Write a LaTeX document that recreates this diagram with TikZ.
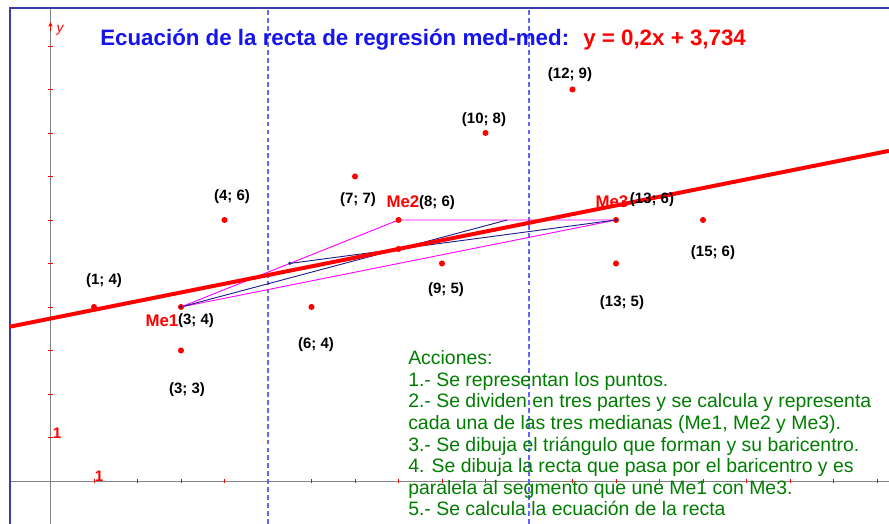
\documentclass[tikz,border=0pt]{standalone}
\usepackage{fontspec}
\setmainfont{Liberation Sans}
\usepackage{tikz}
\usetikzlibrary{arrows.meta}

\definecolor{marco}{RGB}{60,60,170}
\definecolor{guia}{RGB}{100,100,255}
\definecolor{verde}{RGB}{0,125,0}
\definecolor{titulo}{RGB}{20,20,235}
\definecolor{rosa}{RGB}{255,0,255}
\definecolor{azul}{RGB}{30,30,140}
\definecolor{eje}{RGB}{130,130,130}

\begin{document}
\begin{tikzpicture}[
    punto/.style={fill=red},
    etiq/.style={inner sep=0pt, text=black, font=\fontsize{9.8}{11}\selectfont\bfseries},
    nombre/.style={inner sep=0pt, text=red, font=\fontsize{11}{13}\selectfont\bfseries},
    marca/.style={red, line width=0.6pt},
    guiadash/.style={guia, line width=0.7pt, dash pattern=on 3.2pt off 2pt},
    accion/.style={inner sep=0pt, text=verde, align=left, font=\fontsize{12.7}{14.1}\selectfont}
    ]
    \useasboundingbox (-1.161,-0.989) rectangle (19.276,11.057);

    \draw[eje, line width=0.6pt] (-0.931,0) -- (19.276,0);
    \draw[eje, line width=0.6pt] (0,-0.989) -- (0,10.874);
    \draw[red, line width=0.5pt, -{Stealth[length=3pt,width=3pt]}] (0,10.35) -- (0,10.55);
    \node[inner sep=0pt, text=red, font=\fontsize{9}{10}\selectfont\itshape] (ejey) at (0.22,10.35) {y};

    \foreach \i in {1,...,19}
        \draw[marca] (\i,-0.05) -- (\i,0.05);
    \foreach \j in {1,...,10}
        \draw[marca] (-0.05,\j) -- (0.05,\j);
    \node[inner sep=0pt, text=red, font=\fontsize{10}{12}\selectfont\bfseries] (unox) at (1.12,0.1) {1};
    \node[inner sep=0pt, text=red, font=\fontsize{10}{12}\selectfont\bfseries] (unoy) at (0.15,1.1) {1};

    \draw[guiadash] (5,-0.989) -- (5,10.874);
    \draw[guiadash] (11,-0.989) -- (11,10.874);

    \draw[marco, line width=1.4pt] (-0.931,-0.989) -- (-0.931,10.874) -- (19.276,10.874);

    \coordinate (Me1) at (3,4);
    \coordinate (Me2) at (8,6);
    \coordinate (Me3) at (13,6);
    \coordinate (M12) at (5.5,5);
    \coordinate (M23) at (10.5,6);
    \coordinate (G) at (8,5.333);
    \coordinate (izq) at (-0.931,3.548);
    \coordinate (der) at (19.276,7.589);

    \draw[rosa, line width=0.6pt] (Me1) -- (Me2) -- (Me3) -- cycle;
    \draw[azul, line width=0.6pt] (Me1) -- (M23);
    \draw[azul, line width=0.6pt] (Me3) -- (M12);
    \draw[red, line width=2.6pt] (izq) -- (der);

    \foreach \x/\y in {1/4, 3/4, 3/3, 4/6, 6/4, 7/7, 8/6, 9/5, 10/8, 12/9, 13/6, 13/5, 15/6}
        \fill[punto] (\x,\y) circle (0.07);
    \fill[punto] (G) circle (0.07);
    \fill[azul] (M12) circle (0.04);
    \fill[azul] (Me1) circle (0.035);
    \fill[azul] (Me3) circle (0.035);

    \node[etiq] (l14) at (1.23,4.598) {(1; 4)};
    \node[etiq] (l34) at (3.345,3.678) {(3; 4)};
    \node[etiq] (l33) at (3.138,2.092) {(3; 3)};
    \node[etiq] (l46) at (4.172,6.529) {(4; 6)};
    \node[etiq] (l64) at (6.103,3.126) {(6; 4)};
    \node[etiq] (l77) at (7.069,6.46) {(7; 7)};
    \node[etiq] (l86) at (8.885,6.391) {(8; 6)};
    \node[etiq] (l95) at (9.092,4.391) {(9; 5)};
    \node[etiq] (l108) at (9.966,8.299) {(10; 8)};
    \node[etiq] (l129) at (11.943,9.333) {(12; 9)};
    \node[etiq] (l136) at (13.828,6.46) {(13; 6)};
    \node[etiq] (l135) at (13.138,4.092) {(13; 5)};
    \node[etiq] (l156) at (15.23,5.241) {(15; 6)};

    \node[nombre] (n1) at (2.563,3.678) {Me1};
    \node[nombre] (n2) at (8.103,6.414) {Me2};
    \node[nombre] (n3) at (12.908,6.414) {Me3};

    \node[anchor=base west, inner sep=0pt, text=titulo, font=\fontsize{14.6}{17}\selectfont\bfseries] (titulo) at (1.138,10.01) {Ecuación de la recta de regresión med-med:};
    \node[anchor=base west, inner sep=0pt, text=red, font=\fontsize{14.6}{17}\selectfont\bfseries] (ecuacion) at (12.241,10.01) {y = 0,2x + 3,734};

    \node[accion, anchor=north west] (acciones) at (8.218,3.0) {Acciones:\\
        1.- Se representan los puntos.\\
        2.- Se dividen en tres partes y se calcula y representa\\
        cada una de las tres medianas (Me1, Me2 y Me3).\\
        3.- Se dibuja el triángulo que forman y su baricentro.\\
        4. Se dibuja la recta que pasa por el baricentro y es\\
        paralela al segmento que une Me1 con Me3.\\
        5.- Se calcula la ecuación de la recta};
\end{tikzpicture}
\end{document}
